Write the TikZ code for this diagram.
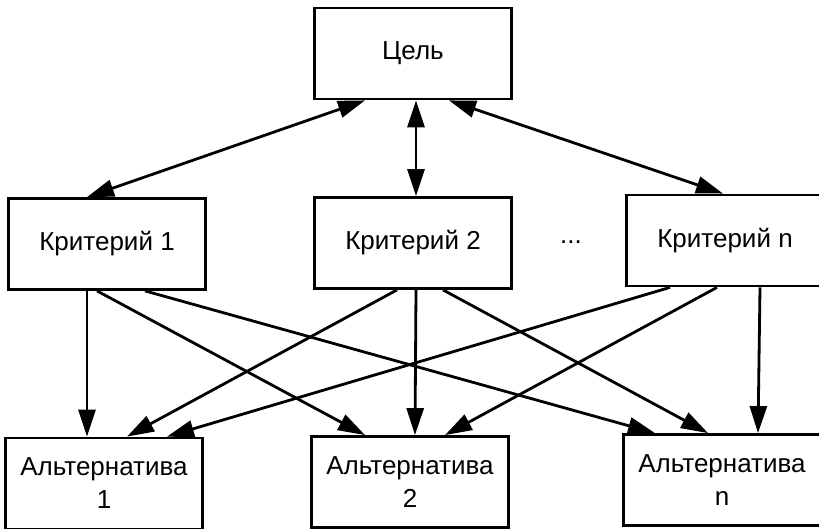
\documentclass[tikz,border=0pt]{standalone}
\usepackage{fontspec}
\setmainfont{Liberation Sans}
\usetikzlibrary{arrows.meta}
\begin{document}
\begin{tikzpicture}[x=1pt,y=1pt,
    box/.style={draw,line width=2.8pt,minimum width=197pt,minimum height=91pt,inner sep=0pt,align=center,font=\fontsize{26}{33}\selectfont},
    link/.style={line width=2.8pt,-{Triangle[length=27pt,width=17pt]}},
    dlink/.style={line width=2.8pt,{Triangle[length=27pt,width=17pt]}-{Triangle[length=27pt,width=17pt]}}]
                \clip (0,0) rectangle (819,529);
                \node[box] (goal) at (413,475.5) {Цель};
                \node[box] (k1) at (107,285) {Критерий 1};
                \node[box] (k2) at (413,286) {Критерий 2};
                \node[box] (kn) at (725,288.5) {Критерий n};
                \node[anchor=base,font=\fontsize{26}{33}\selectfont] (dots) at (571,285) {...};
                \node[box] (a1) at (104,45.5) {Альтернатива\\1};
                \node[box] (a2) at (410,47) {Альтернатива\\2};
                \node[box] (an) at (722,49) {Альтернатива\\n};
                \draw[dlink] ([xshift=-48pt]goal.south) -- ([xshift=-20pt]k1.north);
                \draw[dlink] ([xshift=3pt]goal.south) -- ([xshift=3pt]k2.north);
                \draw[dlink] ([xshift=36pt]goal.south) -- ([xshift=-2pt]kn.north);
                \draw[link] ([xshift=-20pt]k1.south) -- ([xshift=-17pt]a1.north);
                \draw[link] ([xshift=-10pt]k1.south) -- ([xshift=-45pt]a2.north);
                \draw[link] ([xshift=38pt]k1.south) -- ([xshift=-67pt]an.north);
                \draw[link] ([xshift=-16pt]k2.south) -- ([xshift=23pt]a1.north);
                \draw[link] ([xshift=3pt]k2.south) -- ([xshift=5pt]a2.north);
                \draw[link] ([xshift=30pt]k2.south) -- ([xshift=-14pt]an.north);
                \draw[link] ([xshift=-55pt]kn.south) -- ([xshift=63pt]a1.north);
                \draw[link] ([xshift=-8pt]kn.south) -- ([xshift=35pt]a2.north);
                \draw[link] ([xshift=35pt]kn.south) -- ([xshift=36pt]an.north);
\end{tikzpicture}
\end{document}
